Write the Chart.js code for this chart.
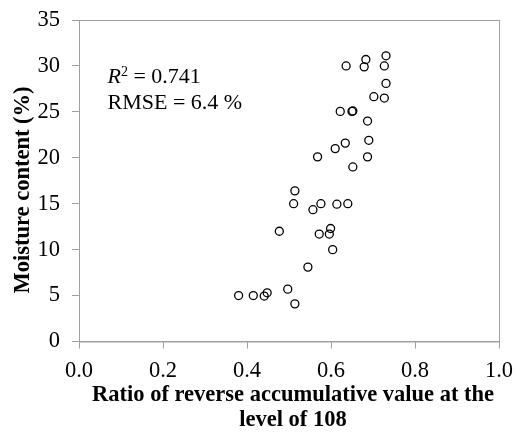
<!DOCTYPE html>
<html lang="en">
  <head>
    <meta charset="UTF-8" />
    <title>Moisture content vs ratio</title>
    <script src="https://cdn.jsdelivr.net/npm/chart.js"></script>
    <style>
      html,
      body {
        margin: 0;
        padding: 0;
        background: #fff;
      }
      #wrap {
        width: 514px;
        height: 435px;
        position: relative;
      }
    </style>
  </head>
  <body>
    <div id="wrap"><canvas id="scatterChart"></canvas></div>

    <script>
      // Ratio of reverse accumulative value (x) and moisture content in % (y)
      const ratioValues = [
        0.380, 0.415, 0.441, 0.448, 0.497, 0.514, 0.545, 0.604, 0.477, 0.572,
        0.596, 0.599, 0.514, 0.511, 0.557, 0.576, 0.614, 0.640, 0.568, 0.652,
        0.687, 0.610, 0.634, 0.690, 0.687, 0.622, 0.650, 0.652, 0.702, 0.727,
        0.731, 0.636, 0.679, 0.683, 0.727, 0.731,
      ];
      const moistureValues = [
        5.0, 5.0, 4.95, 5.3, 5.7, 4.1, 8.1, 10.0, 12.0, 11.7,
        11.7, 12.3, 16.4, 15.0, 14.35, 15.0, 14.95, 15.0, 20.1, 19.0,
        20.1, 21.0, 21.6, 21.9, 24.0, 25.05, 25.05, 25.1, 26.65, 26.5,
        28.1, 30.0, 29.9, 30.7, 30.0, 31.1,
      ];
      const xTicks = [0, 0.2, 0.4, 0.6, 0.8, 1.0];
      const yTicks = [0, 5, 10, 15, 20, 25, 30, 35];
      const xTitle = ["Ratio of reverse accumulative value at the", "level of 108"];
      const yTitle = "Moisture content (%)";
      const r2Text = "0.741";
      const rmseText = "RMSE = 6.4 %";

      const points = ratioValues.map((x, i) => ({ x: x, y: moistureValues[i] }));
      const serif = "'Liberation Serif', 'Times New Roman', serif";
      const axisGray = "#a0a0a0";

      // Box around the plot area, axis titles and the fit statistics
      const extras = {
        id: "extras",
        beforeDatasetsDraw(chart) {
          const { ctx, chartArea } = chart;
          ctx.save();
          ctx.strokeStyle = axisGray;
          ctx.lineWidth = 1;
          ctx.strokeRect(
            chartArea.left + 0.5,
            chartArea.top + 0.5,
            chartArea.right - chartArea.left,
            chartArea.bottom - chartArea.top
          );
          ctx.restore();
        },
        afterDraw(chart) {
          const { ctx, chartArea } = chart;
          ctx.save();
          ctx.fillStyle = "#000";
          ctx.textBaseline = "middle";

          // x axis title, two lines
          ctx.font = "bold 22.5px " + serif;
          ctx.textAlign = "center";
          const cx = (chartArea.left + chartArea.right) / 2 + 4;
          ctx.fillText(xTitle[0], cx, 395);
          ctx.fillText(xTitle[1], cx, 420);

          // y axis title
          ctx.save();
          ctx.translate(23, 190);
          ctx.rotate(-Math.PI / 2);
          ctx.fillText(yTitle, 0, 0);
          ctx.restore();

          // fit statistics
          ctx.textAlign = "left";
          let x = 107.5;
          ctx.font = "italic 22px " + serif;
          ctx.fillText("R", x, 77);
          x += ctx.measureText("R").width;
          ctx.font = "14px " + serif;
          ctx.fillText("2", x, 72);
          x += ctx.measureText("2").width;
          ctx.font = "22px " + serif;
          ctx.fillText(" = " + r2Text, x, 77);
          ctx.fillText(rmseText, 107.5, 103);
          ctx.restore();
        },
      };

      new Chart(document.getElementById("scatterChart"), {
        type: "scatter",
        data: {
          datasets: [
            {
              data: points,
              pointStyle: "circle",
              pointRadius: 4,
              pointBorderWidth: 1.3,
              pointBackgroundColor: "rgba(255,255,255,0)",
              pointBorderColor: "#000",
              pointHoverRadius: 4,
            },
          ],
        },
        options: {
          responsive: true,
          maintainAspectRatio: false,
          animation: false,
          events: [],
          layout: { padding: { top: 20, right: 15, left: 0, bottom: 0 } },
          plugins: {
            legend: { display: false },
            tooltip: { enabled: false },
          },
          scales: {
            x: {
              type: "linear",
              min: 0,
              max: 1,
              afterBuildTicks: (scale) => {
                scale.ticks = xTicks.map((v) => ({ value: v }));
              },
              afterFit: (scale) => {
                // fixed band under the plot, no extra room for end labels
                scale.height = 93.5;
                scale.paddingLeft = 0;
                scale.paddingRight = 0;
              },
              grid: {
                drawOnChartArea: false,
                drawTicks: true,
                tickLength: 7,
                color: axisGray,
              },
              border: { color: axisGray },
              ticks: {
                color: "#000",
                padding: 9,
                maxRotation: 0,
                font: { family: serif, size: 22.5 },
                callback: (v) => Number(v).toFixed(1),
              },
            },
            y: {
              type: "linear",
              min: 0,
              max: 35,
              afterBuildTicks: (scale) => {
                scale.ticks = yTicks.map((v) => ({ value: v }));
              },
              afterFit: (scale) => {
                scale.width = 79;
                scale.paddingTop = 0;
                scale.paddingBottom = 0;
              },
              grid: {
                drawOnChartArea: false,
                drawTicks: true,
                tickLength: 7,
                color: axisGray,
              },
              border: { color: axisGray },
              ticks: {
                color: "#000",
                padding: 12,
                font: { family: serif, size: 22.5 },
              },
            },
          },
        },
        plugins: [extras],
      });
    </script>
  </body>
</html>
